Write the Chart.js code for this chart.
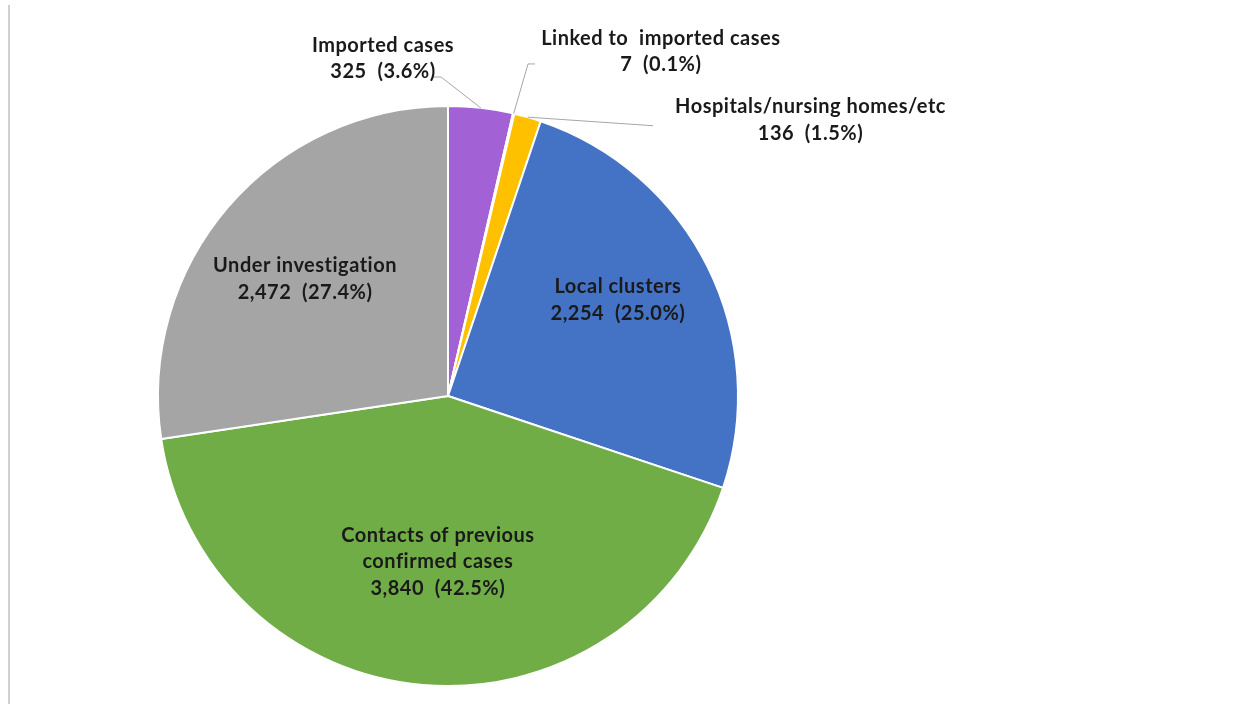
<!DOCTYPE html>
<html>
<head>
<meta charset="utf-8">
<script src="https://cdn.jsdelivr.net/npm/chart.js@4"></script>
<style>
html,body{margin:0;padding:0;background:#fff;}
#wrap{position:relative;width:1249px;height:704px;}
#edge{position:absolute;left:8px;top:5px;width:2px;height:699px;background:#d0d0d0;}
canvas{position:absolute;left:0;top:0;}
</style>
</head>
<body>
<div id="wrap"><div id="edge"></div><canvas id="c" width="1249" height="704"></canvas></div>
<script>
const categories = ["Imported cases", "Linked to imported cases", "Hospitals/nursing homes/etc", "Local clusters", "Contacts of previous confirmed cases", "Under investigation"];
const caseCounts = [325, 7, 136, 2254, 3840, 2472];
const valueLabels = ["325  (3.6%)", "7  (0.1%)", "136  (1.5%)", "2,254  (25.0%)", "3,840  (42.5%)", "2,472  (27.4%)"];
const labelLines = [["Imported cases"], ["Linked to  imported cases"], ["Hospitals/nursing homes/etc"], ["Local clusters"], ["Contacts of previous", "confirmed cases"], ["Under investigation"]];
const sliceColors = ["#A262D6", "#FFC000", "#FFC000", "#4472C4", "#70AD47", "#A5A5A5"];

// label layout: anchor of text block relative to pie centre, in units of radius
const labelLayout = [
  {x: -0.224, y: -1.164, leader: [[-0.024, -1.10], [-0.052, -1.10]]},
  {x: 0.734, y: -1.188, leader: [[0.276, -1.145], [0.300, -1.145]]},
  {x: 1.250, y: -0.952, leader: [[0.707, -0.932]]},
  {x: 0.586, y: -0.331},
  {x: -0.035, y: 0.572},
  {x: -0.493, y: -0.403}
];

const labelPlugin = {
  id: 'sliceLabels',
  afterDatasetsDraw(chart) {
    const ctx = chart.ctx;
    const meta = chart.getDatasetMeta(0);
    ctx.save();
    meta.data.forEach((arc, i) => {
      const {x: cx, y: cy, outerRadius: R, startAngle, endAngle} = arc.getProps(['x','y','outerRadius','startAngle','endAngle'], true);
      const L = labelLayout[i];
      if (L.leader) {
        const mid = (startAngle + endAngle) / 2;
        ctx.strokeStyle = '#A6A6A6';
        ctx.lineWidth = 1;
        ctx.beginPath();
        ctx.moveTo(cx + Math.cos(mid) * R, cy + Math.sin(mid) * R);
        L.leader.forEach(p => ctx.lineTo(cx + p[0] * R, cy + p[1] * R));
        ctx.stroke();
      }
      const lines = labelLines[i].concat([valueLabels[i]]);
      const lh = 26.5;
      const tx = cx + L.x * R;
      const ty = cy + L.y * R - (lines.length - 1) * lh / 2;
      ctx.fillStyle = '#1A1A1A';
      ctx.font = 'bold 20px Lato';
      ctx.letterSpacing = '0.5px';
      ctx.textAlign = 'center';
      ctx.textBaseline = 'middle';
      lines.forEach((t, k) => ctx.fillText(t, tx, ty + k * lh));
    });
    ctx.restore();
  }
};

new Chart(document.getElementById('c'), {
  type: 'pie',
  data: {
    labels: categories,
    datasets: [{
      data: caseCounts,
      backgroundColor: sliceColors,
      borderColor: '#FFFFFF',
      borderWidth: 2
    }]
  },
  options: {
    responsive: false,
    animation: false,
    layout: {padding: {top: 105, bottom: 17, left: 157, right: 510}},
    plugins: {legend: {display: false}, tooltip: {enabled: false}, title: {display: false}}
  },
  plugins: [labelPlugin]
});
</script>
</body>
</html>
